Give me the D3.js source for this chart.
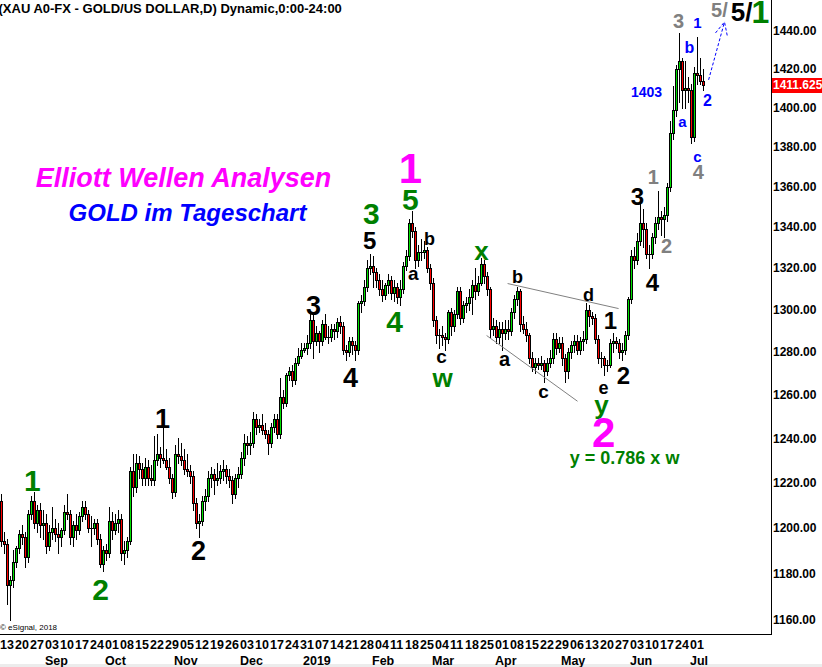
<!DOCTYPE html>
<html lang="de">
<head>
<meta charset="UTF-8">
<title>XAU A0-FX - GOLD/US DOLLAR</title>
<script src="https://d3js.org/d3.v7.min.js"></script>
<style>
  body { margin: 0; background: #fff; }
  svg { display: block; font-family: "Liberation Sans", Arial, sans-serif; }
</style>
</head>
<body>
<script>
// daily candles [open, high, low, close], one line per week, first bar Mon 13 Aug 2018
const candles = [
  [1212,1215,1192,1194],[1194,1198,1189,1193],[1193,1195,1167,1175],[1175,1179,1160,1177],[1177,1190,1174,1185],
  [1185,1192,1183,1191],[1191,1199,1189,1197],[1197,1201,1193,1196],[1196,1198,1183,1187],[1187,1208,1185,1206],
  [1206,1214,1204,1212],[1212,1216,1200,1202],[1202,1210,1198,1208],[1208,1211,1196,1201],[1201,1208,1195,1202],
  [1202,1206,1189,1192],[1192,1201,1190,1198],[1198,1209,1195,1200],[1200,1204,1194,1197],[1197,1202,1189,1196],
  [1196,1200,1192,1199],[1199,1210,1197,1207],[1207,1215,1204,1206],[1206,1208,1193,1196],[1196,1203,1192,1201],
  [1201,1206,1195,1199],[1199,1207,1197,1205],[1205,1212,1203,1209],[1209,1212,1204,1206],[1206,1208,1198,1200],
  [1200,1205,1192,1200],[1200,1204,1197,1202],[1202,1204,1193,1195],[1195,1197,1183,1184],[1184,1192,1181,1190],
  [1190,1193,1186,1189],[1189,1209,1187,1203],[1203,1207,1195,1199],[1199,1206,1197,1202],[1202,1208,1198,1204],
  [1204,1206,1186,1189],[1189,1194,1184,1190],[1190,1196,1187,1194],[1194,1227,1193,1225],[1225,1233,1214,1218],
  [1218,1233,1216,1229],[1229,1232,1222,1226],[1226,1229,1219,1222],[1222,1231,1219,1227],[1227,1230,1219,1222],
  [1222,1228,1219,1221],[1221,1241,1219,1230],[1230,1242,1228,1233],[1233,1236,1227,1231],[1231,1245,1229,1230],
  [1230,1235,1226,1227],[1227,1231,1220,1222],[1222,1224,1213,1216],[1216,1237,1214,1233],[1233,1240,1229,1232],
  [1232,1238,1228,1230],[1230,1235,1224,1226],[1226,1233,1223,1225],[1225,1228,1220,1223],[1223,1225,1208,1211],
  [1211,1213,1200,1202],[1202,1206,1196,1203],[1203,1214,1201,1212],[1212,1217,1208,1214],[1214,1225,1212,1222],
  [1222,1227,1218,1224],[1224,1226,1215,1221],[1221,1229,1219,1222],[1222,1228,1220,1225],[1225,1230,1221,1226],
  [1226,1228,1220,1223],[1223,1226,1218,1221],[1221,1223,1211,1215],[1215,1224,1213,1222],[1222,1227,1218,1224],
  [1224,1234,1222,1231],[1231,1242,1228,1238],[1238,1241,1233,1237],[1237,1243,1233,1238],[1238,1252,1236,1249],
  [1249,1251,1242,1245],[1245,1249,1243,1246],[1246,1251,1242,1244],[1244,1247,1240,1242],[1242,1244,1233,1238],
  [1238,1247,1236,1245],[1245,1251,1243,1249],[1249,1251,1240,1242],[1242,1268,1240,1259],[1259,1262,1254,1256],
  [1256,1270,1255,1269],[1269,1273,1267,1271],[1271,1274,1264,1267],[1267,1277,1265,1275],[1275,1282,1274,1278],
  [1278,1284,1277,1281],[1281,1284,1280,1282],[1282,1288,1279,1284],[1284,1298,1282,1295],[1295,1299,1277,1285],
  [1285,1292,1283,1289],[1289,1290,1280,1285],[1285,1295,1283,1293],[1293,1298,1286,1287],[1287,1292,1284,1287],
  [1287,1293,1285,1291],[1291,1293,1286,1290],[1290,1296,1287,1294],[1294,1297,1289,1292],[1292,1294,1279,1281],
  [1281,1283,1276,1280],[1280,1287,1278,1285],[1285,1287,1279,1283],[1283,1285,1276,1281],[1281,1304,1279,1303],
  [1303,1307,1299,1304],[1304,1314,1302,1311],[1311,1324,1309,1320],[1320,1327,1317,1321],[1321,1326,1311,1318],
  [1318,1320,1311,1314],[1314,1317,1307,1310],[1310,1314,1304,1307],[1307,1313,1305,1312],[1312,1317,1308,1314],
  [1314,1316,1305,1308],[1308,1314,1304,1311],[1311,1313,1303,1306],[1306,1314,1302,1310],[1310,1323,1308,1321],
  [1321,1329,1319,1326],[1326,1344,1324,1342],[1342,1348,1335,1338],[1338,1340,1320,1324],[1324,1331,1321,1328],
  [1328,1334,1324,1328],[1328,1333,1325,1329],[1329,1330,1318,1320],[1320,1322,1310,1313],[1313,1315,1292,1295],
  [1295,1297,1284,1288],[1288,1291,1282,1288],[1288,1292,1283,1287],[1287,1289,1281,1286],[1286,1300,1284,1299],
  [1299,1301,1288,1292],[1292,1300,1290,1298],[1298,1311,1296,1309],[1309,1311,1293,1296],[1296,1304,1294,1302],
  [1302,1306,1299,1303],[1303,1310,1300,1306],[1306,1314,1298,1312],[1312,1320,1305,1309],[1309,1316,1307,1313],
  [1313,1325,1312,1322],[1322,1324,1313,1316],[1316,1318,1307,1310],[1310,1311,1287,1291],[1291,1296,1288,1292],
  [1292,1295,1284,1287],[1287,1294,1284,1291],[1291,1294,1281,1289],[1289,1295,1286,1291],[1291,1295,1286,1290],
  [1290,1301,1288,1299],[1299,1307,1296,1305],[1305,1311,1302,1309],[1309,1310,1290,1293],[1293,1297,1289,1291],
  [1291,1294,1285,1288],[1288,1289,1275,1277],[1277,1280,1271,1273],[1273,1277,1270,1275],[1275,1277,1272,1274],
  [1274,1278,1272,1275],[1275,1276,1266,1271],[1271,1277,1269,1275],[1275,1281,1273,1277],[1277,1289,1275,1286],
  [1286,1289,1279,1282],[1282,1287,1280,1284],[1284,1287,1274,1277],[1277,1279,1266,1271],[1271,1282,1268,1280],
  [1280,1285,1277,1283],[1283,1288,1280,1285],[1285,1288,1279,1281],[1281,1287,1279,1285],[1285,1290,1281,1286],
  [1286,1303,1284,1300],[1300,1302,1292,1297],[1297,1299,1293,1296],[1296,1298,1284,1286],[1286,1288,1275,1277],
  [1277,1280,1273,1277],[1277,1278,1269,1274],[1274,1276,1271,1274],[1274,1286,1273,1284],[1284,1289,1280,1285],
  [1285,1287,1282,1284],[1284,1286,1277,1280],[1280,1284,1276,1281],[1281,1290,1279,1288],[1288,1306,1286,1305],
  [1305,1329,1303,1326],[1326,1330,1320,1324],[1324,1337,1322,1333],[1333,1352,1331,1342],[1342,1349,1330,1339],
  [1339,1342,1325,1327],[1327,1331,1320,1327],[1327,1337,1325,1335],[1335,1345,1332,1342],[1342,1358,1339,1345],
  [1345,1348,1336,1344],[1344,1350,1335,1346],[1346,1362,1343,1360],[1360,1393,1358,1387],[1387,1411,1384,1399],
  [1399,1422,1396,1420],[1420,1439,1403,1424],[1424,1426,1400,1409],[1409,1424,1400,1410],[1410,1416,1403,1409],
  [1409,1412,1382,1385],[1385,1421,1383,1418],[1418,1437,1412,1417],[1417,1426,1412,1414],[1414,1420,1409,1411.625]
];
const firstDay = new Date(2018, 7, 13, 12);
const lastPrice = 1411.625;

const weekLabels = ["13","20","27","03","10","17","24","01","08","15","22","29","05","12","19","26",
  "03","10","17","24","31","07","14","21","28","04","11","18","25","04","11","18","25",
  "01","08","15","22","29","06","13","20","27","03","10","17","24","01"];
const monthLabels = ["Sep","Oct","Nov","Dec","2019","Feb","Mar","Apr","May","Jun","Jul"];
const priceTicks = [1160,1180,1200,1220,1240,1260,1280,1300,1320,1340,1360,1380,1400,1420,1440];

// wave counts: text, bar index, price, colour key, font size
const waveLabels = [
  ["1", 10.3, 1221.1, "g", 30], ["2", 33, 1173.3, "g", 30],
  ["1", 53.7, 1249.1, "k", 27], ["2", 65.7, 1190.2, "k", 27],
  ["3", 104, 1302.0, "k", 27], ["4", 116.3, 1268.1, "k", 27],
  ["3", 123.3, 1346.6, "g", 30], ["5", 122.7, 1333.3, "k", 24],
  ["4", 131, 1294.4, "g", 30], ["1", 136.3, 1369.5, "m", 42], ["5", 136.3, 1354.0, "g", 30],
  ["b", 142.7, 1334.3, "k", 18], ["a", 137.3, 1317.3, "k", 19],
  ["c", 146.7, 1278.0, "k", 19], ["w", 147, 1268.0, "g", 26], ["x", 160, 1328.5, "g", 26],
  ["b", 172, 1315.9, "k", 18], ["a", 167.7, 1276.9, "k", 20], ["c", 180.7, 1261.6, "k", 19],
  ["d", 195.7, 1307.2, "k", 18], ["1", 203, 1294.8, "k", 24], ["e", 200.7, 1263.5, "k", 18],
  ["y", 200, 1255.6, "g", 26], ["2", 207.3, 1269.0, "k", 24], ["2", 200.7, 1242.8, "m", 42],
  ["y = 0.786 x w", 207.7, 1231.4, "g", 18],
  ["3", 212, 1355.0, "k", 24], ["1", 217.3, 1365.0, "s", 20], ["2", 221.7, 1330.9, "s", 20],
  ["4", 217, 1313.0, "k", 24], ["3", 225.7, 1445.3, "s", 20],
  ["1", 232, 1444.2, "b", 15], ["b", 229.3, 1431.6, "b", 16], ["1403", 215, 1408.2, "b", 14],
  ["a", 227, 1392.8, "b", 15], ["2", 235.3, 1404.0, "b", 16], ["c", 232, 1375.0, "b", 15],
  ["4", 232.3, 1367.5, "s", 20],
  ["5/", 239.3, 1451.0, "s", 20], ["5/", 246.7, 1450.4, "k", 26], ["1", 253, 1450.1, "g", 32]
];
const headings = [
  ["Elliott Wellen Analysen", 60.7, 1364.5, "m", 27],
  ["GOLD im Tageschart", 62, 1347.1, "b", 24]
];
// trend lines and forecast arrow: [bar, price] pairs
const upperLine = [[168.7, 1312.5], [205.7, 1300.5]];
const lowerLine = [[161.7, 1287.7], [192, 1257.0]];
const arrowLine = [[235.7, 1414.4], [241, 1444.8]];

const colors = { g: "#008000", k: "#000000", m: "#ff00ff", s: "#808080", b: "#0000ff" };

const W = 822, H = 667;
const axisX = 771, bottomY = 634;

const svg = d3.select("body").append("svg").attr("width", W).attr("height", H);
svg.append("rect").attr("width", W).attr("height", H).attr("fill", "#fff");
svg.append("rect").attr("y", 664).attr("width", W).attr("height", 3).attr("fill", "#ececec");

const x = d3.scaleLinear().domain([0, candles.length - 1]).range([1.5, 1.5 + 3 * (candles.length - 1)]);
const y = d3.scaleLog().domain([1160, 1440]).range([620, 31]);

const dates = candles.map((d, i) =>
  new Date(firstDay.getTime() + (Math.floor(i / 5) * 7 + i % 5) * 864e5));

// candles
const gC = svg.append("g").attr("shape-rendering", "crispEdges");
const bar = gC.selectAll("g").data(candles).join("g");
bar.append("line")
  .attr("x1", (d, i) => Math.round(x(i) - 0.5) + 0.5)
  .attr("x2", (d, i) => Math.round(x(i) - 0.5) + 0.5)
  .attr("y1", d => Math.round(y(d[1])))
  .attr("y2", d => Math.round(y(d[2])) + 1)
  .attr("stroke", "#000");
bar.each(function(d, i) {
  const col = Math.round(x(i) - 0.5);
  const top = Math.round(y(Math.max(d[0], d[3])));
  const bot = Math.round(y(Math.min(d[0], d[3])));
  const g = d3.select(this);
  if (bot - top < 1) {
    g.append("line").attr("x1", col - 1).attr("x2", col + 2)
      .attr("y1", top + 0.5).attr("y2", top + 0.5).attr("stroke", "#000");
  } else {
    g.append("rect").attr("x", col - 0.5).attr("y", top + 0.5)
      .attr("width", 2).attr("height", bot - top)
      .attr("fill", d[3] >= d[0] ? "#00e000" : "#ff0000")
      .attr("stroke", "#000");
  }
});

// frame
svg.append("line").attr("x1", axisX + 0.5).attr("x2", axisX + 0.5).attr("y1", 0).attr("y2", bottomY + 1)
  .attr("stroke", "#000");
svg.append("line").attr("x1", 0).attr("x2", axisX + 1).attr("y1", bottomY + 0.5).attr("y2", bottomY + 0.5)
  .attr("stroke", "#000");

// price axis
const yAxis = svg.append("g").attr("transform", `translate(${axisX},0)`)
  .call(d3.axisRight(y).tickValues(priceTicks).tickFormat(d3.format(".2f")).tickSize(0).tickPadding(2));
yAxis.select(".domain").remove();
yAxis.selectAll("text").attr("font-size", 12).attr("font-weight", "bold")
  .attr("font-family", "'Liberation Sans', Arial, sans-serif").attr("fill", "#000");

// last price marker
const ly = y(lastPrice);
svg.append("rect").attr("x", axisX + 1).attr("y", Math.round(ly) - 7).attr("width", W - axisX - 1).attr("height", 15)
  .attr("fill", "#ff0000");
svg.append("text").attr("x", axisX + 2).attr("y", ly).attr("dy", "0.35em")
  .attr("font-size", 12).attr("font-weight", "bold").attr("fill", "#fff")
  .text(d3.format(".3f")(lastPrice));

// time axis
const weekStarts = d3.range(0, candles.length, 5);
svg.append("g").selectAll("text").data(weekStarts).join("text")
  .attr("x", i => Math.round(x(i) - 0.5) - 1).attr("y", 649)
  .attr("font-size", 12.5).attr("font-weight", "bold").attr("fill", "#000")
  .text((d, k) => weekLabels[k]);
const monthStarts = dates.map((d, i) => i).filter(i => i > 0 && dates[i].getMonth() !== dates[i - 1].getMonth());
svg.append("g").selectAll("text").data(monthStarts).join("text")
  .attr("x", i => Math.round(x(i) - 0.5) - 1).attr("y", 665)
  .attr("font-size", 12.5).attr("font-weight", "bold").attr("fill", "#000")
  .text((d, k) => monthLabels[k]);

// title and copyright
svg.append("text").attr("x", -1.5).attr("y", 13).attr("font-size", 13).attr("font-weight", "bold")
  .attr("fill", "#000").text("(XAU A0-FX - GOLD/US DOLLAR,D) Dynamic,0:00-24:00");
svg.append("text").attr("x", 0).attr("y", 630).attr("font-size", 8).attr("fill", "#000")
  .text("\u00a9 eSignal, 2018");

// trend lines
const line = d3.line().x(d => x(d[0])).y(d => y(d[1]));
svg.append("path").attr("d", line(upperLine)).attr("stroke", "#808080").attr("fill", "none");
svg.append("path").attr("d", line(lowerLine)).attr("stroke", "#808080").attr("fill", "none");
svg.append("path").attr("d", line(arrowLine)).attr("stroke", "#0000ff").attr("fill", "none")
  .attr("stroke-dasharray", "3,2");
const tip = arrowLine[1];
svg.append("path")
  .attr("d", `M${x(tip[0]) - 9},${y(tip[1]) + 11}L${x(tip[0])},${y(tip[1])}L${x(tip[0]) + 3},${y(tip[1]) + 15}`)
  .attr("stroke", "#0000ff").attr("fill", "none").attr("stroke-dasharray", "3,2");

// headings
svg.append("g").selectAll("text").data(headings).join("text")
  .attr("x", d => x(d[1])).attr("y", d => y(d[2])).attr("dy", "0.35em")
  .attr("text-anchor", "middle").attr("font-size", d => d[4])
  .attr("font-weight", "bold").attr("font-style", "italic")
  .attr("fill", d => colors[d[3]]).text(d => d[0]);

// wave labels
svg.append("g").selectAll("text").data(waveLabels).join("text")
  .attr("x", d => x(d[1])).attr("y", d => y(d[2])).attr("dy", "0.36em")
  .attr("text-anchor", "middle").attr("font-size", d => d[4]).attr("font-weight", "bold")
  .attr("fill", d => colors[d[3]]).text(d => d[0]);
</script>
</body>
</html>
